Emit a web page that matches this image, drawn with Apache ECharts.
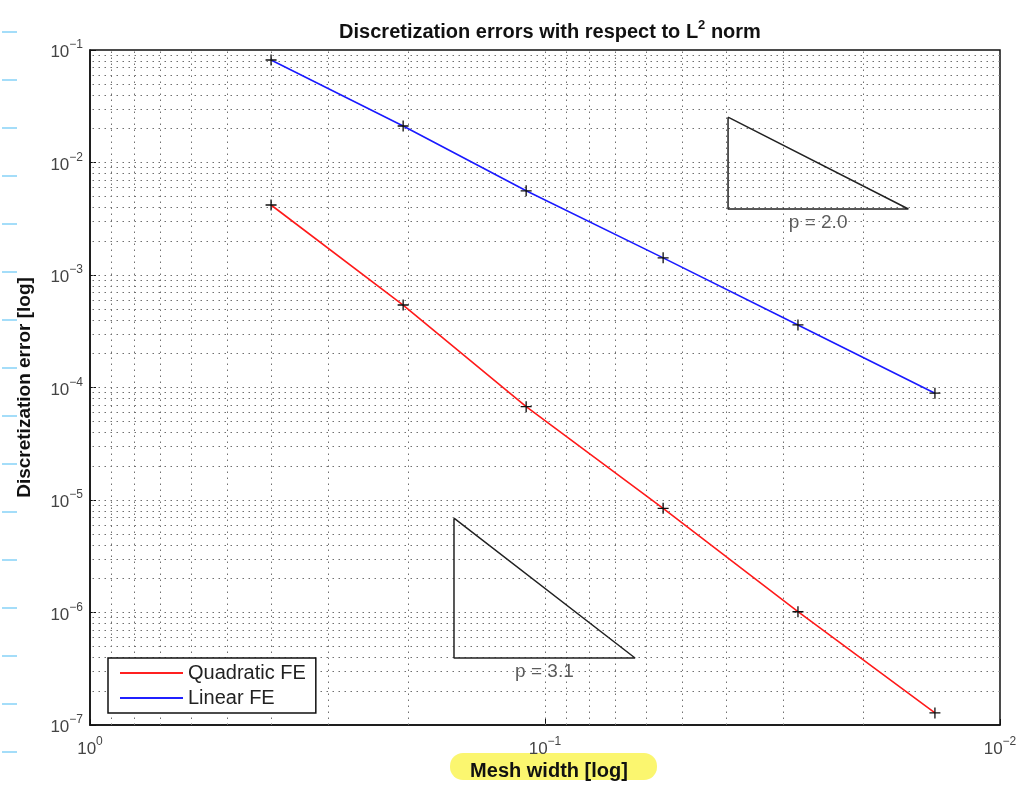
<!DOCTYPE html>
<html><head><meta charset="utf-8">
<script src="https://cdn.jsdelivr.net/npm/echarts@6/dist/echarts.min.js"></script>
<style>html,body{margin:0;padding:0;background:#fff}#c{width:1020px;height:789px}</style>
</head><body><div id="c"></div>
<script>
// ---- data ----
const meshWidth    = [0.4, 0.205, 0.11, 0.055, 0.0278, 0.0139];
const quadraticErr = [4.19e-3, 5.41e-4, 6.75e-5, 8.43e-6, 1.016e-6, 1.28e-7];
const linearErr    = [8.15e-2, 2.11e-2, 5.6e-3, 1.42e-3, 3.6e-4, 8.9e-5];
const seriesNames  = ['Quadratic FE', 'Linear FE'];
const xRange       = [0.01, 1];
const yRange       = [1e-7, 1e-1];
const xDecades     = [-2, -1];          // decades spanned by x axis (10^-2 .. 10^0)
const yDecades     = [-7, -6, -5, -4, -3, -2];
const gridMultipliers = [1, 2, 3, 4, 5, 6, 7, 8, 9];
const slopeTriangle2 = [[0.0396, 0.0253], [0.0396, 0.00386], [0.0159, 0.00386], [0.0396, 0.0253]];
const slopeTriangle3 = [[0.1585, 6.9e-6], [0.1585, 3.94e-7], [0.0634, 3.94e-7], [0.1585, 6.9e-6]];
const slopeLabels  = [['p = 2.0', 0.0251, 0.00386], ['p = 3.1', 0.1003, 3.94e-7]];
const titleText = 'Discretization errors with respect to L';
const xName = 'Mesh width [log]';
const yName = 'Discretization error [log]';

// ---- build ----
const FONT = 'Liberation Sans';
const gridSegs = [];
xDecades.forEach(e => gridMultipliers.forEach(m => {
  const v = m * Math.pow(10, e);
  if (!(e === -2 && m === 1)) gridSegs.push({ coords: [[v, yRange[0]], [v, yRange[1]]] });
}));
yDecades.forEach(e => gridMultipliers.forEach(m => {
  const v = m * Math.pow(10, e);
  if (!(e === -7 && m === 1)) gridSegs.push({ coords: [[xRange[0], v], [xRange[1], v]] });
}));

function powLabel(v) {
  const e = Math.round(Math.log10(v));
  return '{b|10}{s|' + (e < 0 ? '\u2212' + (-e) : String(e)) + '}';
}
const richLab = {
  b: { fontSize: 17, fontFamily: FONT, color: '#444', verticalAlign: 'bottom', lineHeight: 19 },
  s: { fontSize: 12, fontFamily: FONT, color: '#444', verticalAlign: 'bottom', padding: [0, 0, 10, 0] }
};

const chart = echarts.init(document.getElementById('c'), null, { renderer: 'canvas' });

const graphics = [
  { type: 'rect', z: -10, silent: true, shape: { x: 450, y: 753, width: 207, height: 27, r: 13 },
    style: { fill: '#fbf66f' } }
];
for (let k = 0; k < 16; k++) {
  graphics.push({ type: 'line', shape: { x1: 2, y1: 32 + 48 * k, x2: 17, y2: 32 + 48 * k },
    style: { stroke: '#86d2f7', lineWidth: 1.5 }, silent: true });
}

const crossSymbol = 'path://M4.4,0 H5.6 V4.4 H10 V5.6 H5.6 V10 H4.4 V5.6 H0 V4.4 H4.4 Z';

chart.setOption({
  animation: false,
  backgroundColor: '#fff',
  title: {
    text: '{t|' + titleText + '}{sup|2}{t| norm}',
    left: 545, top: 14, textAlign: 'center',
    textStyle: { rich: {
      t: { fontSize: 20, fontWeight: 'bold', fontFamily: FONT, color: '#111', verticalAlign: 'bottom', lineHeight: 22 },
      sup: { fontSize: 13, fontWeight: 'bold', fontFamily: FONT, color: '#111', verticalAlign: 'bottom', padding: [0, 0, 10, 0] }
    } }
  },
  grid: { left: 90, top: 50, right: 20, bottom: 64, outerBoundsMode: 'none', containLabel: false,
    show: true, borderColor: '#111', borderWidth: 1.5, backgroundColor: 'transparent' },
  legend: {
    orient: 'vertical', left: 108, top: 658,
    padding: [5, 10, 5, 12], itemGap: 5, itemWidth: 63, itemHeight: 2,
    backgroundColor: '#fff', borderColor: '#111', borderWidth: 1.5,
    textStyle: { fontSize: 20, fontFamily: FONT, color: '#222' },
    data: [
      { name: seriesNames[0], icon: 'rect', itemStyle: { color: '#ff2020' } },
      { name: seriesNames[1], icon: 'rect', itemStyle: { color: '#2020ff' } }
    ]
  },
  xAxis: {
    type: 'log', logBase: 10, inverse: true, min: xRange[0], max: xRange[1], interval: 1,
    name: xName, nameLocation: 'middle', nameGap: 36, nameMoveOverlap: false,
    nameTextStyle: { fontSize: 20, fontWeight: 'bold', fontFamily: FONT, color: '#111',
      lineHeight: 21, padding: [0, 0, 0, 8] },
    axisLine: { show: true, lineStyle: { color: '#111', width: 1.5 } },
    axisTick: { show: true, inside: true, length: 6, lineStyle: { color: '#111' } },
    axisLabel: { formatter: powLabel, rich: richLab, margin: 11 },
    splitLine: { show: false }
  },
  yAxis: {
    type: 'log', logBase: 10, min: yRange[0], max: yRange[1], interval: 1,
    name: yName, nameLocation: 'middle', nameGap: 56,
    nameTextStyle: { fontSize: 19, fontWeight: 'bold', fontFamily: FONT, color: '#111' },
    axisLine: { show: true, lineStyle: { color: '#111', width: 1.5 } },
    axisTick: { show: true, inside: true, length: 6, lineStyle: { color: '#111' } },
    axisLabel: { formatter: powLabel, rich: richLab, margin: 7 },
    splitLine: { show: false }
  },
  graphic: graphics,
  series: [
    { type: 'lines', name: '__grid', coordinateSystem: 'cartesian2d', silent: true, z: 1,
      symbol: ['none', 'none'], polyline: false, data: gridSegs,
      lineStyle: { color: '#707070', width: 1, type: [1.5, 4.5], opacity: 1 } },
    { type: 'line', name: '__tri1', data: slopeTriangle2, symbol: 'none', silent: true, z: 3,
      lineStyle: { color: '#222', width: 1.5 } },
    { type: 'line', name: '__tri2', data: slopeTriangle3, symbol: 'none', silent: true, z: 3,
      lineStyle: { color: '#222', width: 1.5 } },
    { type: 'scatter', name: '__lab', silent: true, z: 4, symbolSize: 0,
      data: slopeLabels.map(l => ({ value: [l[1], l[2]], label: { formatter: l[0] } })),
      label: { show: true, position: 'bottom', distance: 4, fontSize: 19, fontFamily: FONT, color: '#333' } },
    { type: 'line', name: seriesNames[0], data: meshWidth.map((h, i) => [h, quadraticErr[i]]), z: 5,
      lineStyle: { color: '#ff1a1a', width: 1.6 },
      symbol: crossSymbol, symbolSize: 11, itemStyle: { color: '#111' } },
    { type: 'line', name: seriesNames[1], data: meshWidth.map((h, i) => [h, linearErr[i]]), z: 5,
      lineStyle: { color: '#1a1aff', width: 1.6 },
      symbol: crossSymbol, symbolSize: 11, itemStyle: { color: '#111' } }
  ]
});
</script>
</body></html>
